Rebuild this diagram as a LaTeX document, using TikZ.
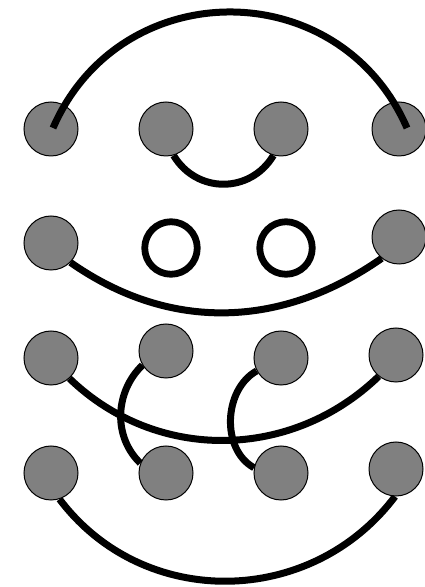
\documentclass[tikz,border=0pt]{standalone}
\usetikzlibrary{calc}
\pgfdeclarelayer{background}
\pgfsetlayers{background,main}
\begin{document}
\begin{tikzpicture}[x=1pt,y=1pt,
  dot/.style={circle,draw=black,line width=1pt,fill=gray,minimum size=54pt,inner sep=0pt},
  ring/.style={circle,draw=black,line width=6.8pt,fill=none,minimum size=52.5pt,inner sep=0pt},
  link/.style={line width=7pt,draw=black}]
\useasboundingbox (0,0) rectangle (424,587);
% row 1
\node[dot] (a1) at (51,458) {};
\node[dot] (a2) at (166,458) {};
\node[dot] (a3) at (281,458) {};
\node[dot] (a4) at (399,458) {};
% row 2
\node[dot] (b1) at (51,344) {};
\node[ring] (b2) at (171,339) {};
\node[ring] (b3) at (286,339) {};
\node[dot] (b4) at (399,350) {};
% row 3
\node[dot] (c1) at (51,229) {};
\node[dot] (c2) at (166,236) {};
\node[dot] (c3) at (281,229) {};
\node[dot] (c4) at (396,232) {};
% row 4
\node[dot] (d1) at (51,114) {};
\node[dot] (d2) at (166,114) {};
\node[dot] (d3) at (281,114) {};
\node[dot] (d4) at (396,118) {};
\coordinate (a1e) at ($(a1)+(2,1)$);
\coordinate (a4e) at ($(a4)+(8,1)$);
\begin{pgfonlayer}{background}
\draw[link] (a2.-74) to[out=-59,in=-121,looseness=1.15] (a3.-106);
\draw[link] (b1.-45) to[out=-35,in=-145] (b4.231);
\draw[link] (c1.-48) to[out=-44,in=-136] (c4.231);
\draw[link] (c2.211) to[out=224,in=136] (d2.159);
\draw[link] (c3.208) to[out=209,in=151] (d3.169);
\draw[link] (d1.-72) to[out=-53,in=-127,looseness=1.06] (d4.-92);
\end{pgfonlayer}
\draw[link] (a1e) .. controls +(67.3,154.7) and +(-67.3,154.7) .. (a4e);
\end{tikzpicture}
\end{document}
